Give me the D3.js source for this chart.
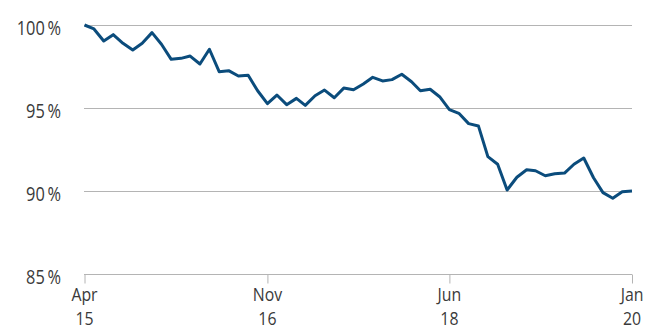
<!DOCTYPE html>
<html><head><meta charset="utf-8">
<script src="https://cdn.jsdelivr.net/npm/d3@7"></script>
<style>
html,body{margin:0;padding:0;background:#fff;}
svg{display:block;}
text{font-family:"Open Sans","Noto Sans",sans-serif;fill:#3a3a3a;}
</style></head>
<body><svg id="c" width="645" height="331"></svg>
<script>
const values = [100.0, 99.76, 99.04, 99.42, 98.90, 98.49, 98.90, 99.54, 98.84, 97.93,
  97.99, 98.13, 97.65, 98.54, 97.19, 97.25, 96.93, 96.97, 96.04, 95.26,
  95.78, 95.20, 95.58, 95.16, 95.74, 96.08, 95.62, 96.20, 96.10, 96.45,
  96.85, 96.63, 96.71, 97.03, 96.58, 96.04, 96.13, 95.68, 94.90, 94.68,
  94.06, 93.92, 92.07, 91.61, 90.06, 90.83, 91.28, 91.22, 90.92, 91.04,
  91.08, 91.61, 91.99, 90.80, 89.90, 89.56, 89.96, 90.0];
const yTicks = [85, 90, 95, 100];
const xTickDates = [new Date(2015,3,1), new Date(2016,10,1), new Date(2018,5,1), new Date(2020,0,1)];
const xTickMonths = ["Apr","Nov","Jun","Jan"];
const xTickYears = ["15","16","18","20"];

const dates = values.map((v,i)=> new Date(2015, 3 + i, 1));
const data = values.map((v,i)=>({d:dates[i], v}));

const svg = d3.select("#c");
const x = d3.scaleTime().domain([dates[0], dates[dates.length-1]]).range([84.5, 632]);
const y = d3.scaleLinear().domain([85, 100]).range([274, 25]);
const SX = 0.84;

// gridlines
svg.append("g").selectAll("line").data(yTicks.filter(t=>t!==85)).join("line")
  .attr("x1", 84).attr("x2", 632)
  .attr("y1", d=>Math.round(y(d))+0.5).attr("y2", d=>Math.round(y(d))+0.5)
  .attr("stroke", "#b4b4b4").attr("stroke-width", 1);

// y labels
svg.append("g").selectAll("text").data(yTicks).join("text")
  .attr("transform", d=>`translate(61,${y(d)+9.8}) scale(${SX},1)`)
  .attr("text-anchor","end").attr("font-size", 19.5)
  .text(d=>d+"\u2009%");

// x axis
const xAxis = d3.axisBottom(x).tickValues(xTickDates).tickSize(9).tickFormat("");
const gx = svg.append("g").attr("transform", "translate(0,274.5)").call(xAxis);
gx.select(".domain").attr("stroke", "#b4b4b4").attr("d", "M84,0H632");
gx.selectAll(".tick line").attr("stroke", "#b4b4b4");

const xl = svg.append("g");
xl.selectAll("text.m").data(xTickDates).join("text").attr("class","m")
  .attr("transform", d=>`translate(${x(d)},300.5) scale(0.88,1)`)
  .attr("text-anchor","middle").attr("font-size", 18)
  .text((d,i)=>xTickMonths[i]);
xl.selectAll("text.yr").data(xTickDates).join("text").attr("class","yr")
  .attr("transform", d=>`translate(${x(d)},325.3) scale(0.88,1)`)
  .attr("text-anchor","middle").attr("font-size", 18)
  .text((d,i)=>xTickYears[i]);

// line
svg.append("path").datum(data)
  .attr("fill","none").attr("stroke","#0b4c7c").attr("stroke-width", 3)
  .attr("stroke-linejoin","round")
  .attr("d", d3.line().x(d=>x(d.d)).y(d=>y(d.v)));
</script></body></html>
